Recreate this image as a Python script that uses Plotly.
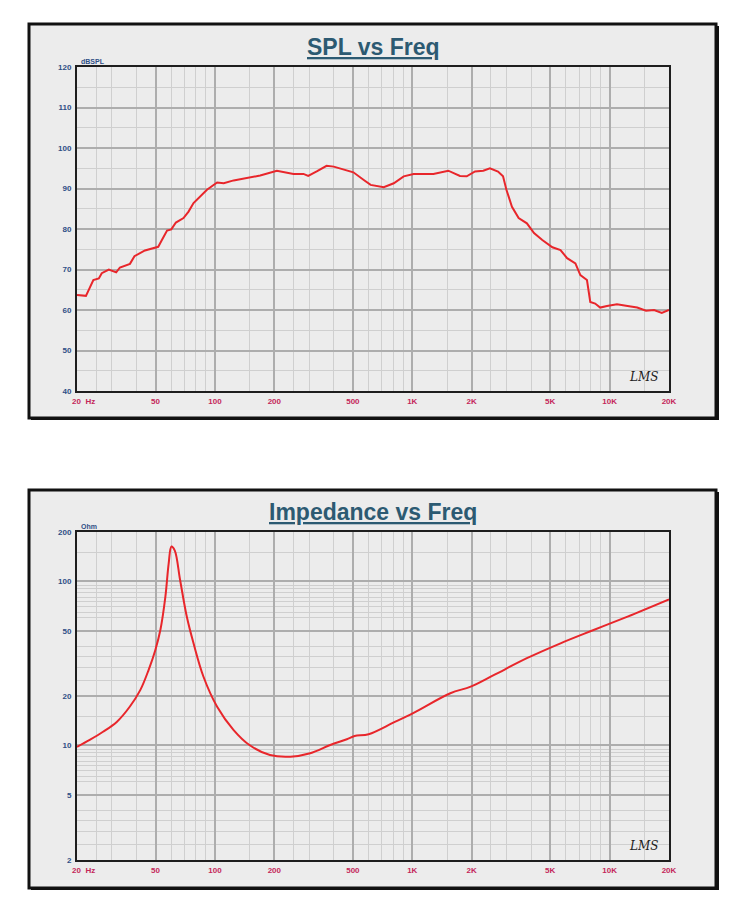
import plotly.graph_objects as go
import math

# ---------------- data ----------------
spl_freq = [20, 22.2, 24.2, 25.8, 26.7, 29.0, 31.6, 33.0, 37.1, 39.1, 44.2, 48.9, 51.6, 53.6,
            57.2, 60.1, 63.4, 69.3, 73.5, 77.9, 84.2, 91.1, 102.6, 110.8, 124.4, 145.5, 169.6,
            206, 231.5, 250, 281, 297, 328, 368, 400, 448, 503, 568, 615, 717, 806, 905, 1016,
            1280, 1522, 1745, 1888, 2080, 2290, 2475, 2720, 2884, 3000, 3200, 3460, 3810, 4140,
            4560, 5130, 5640, 6090, 6710, 7110, 7680, 7980, 8450, 8960, 9700, 10900, 12330,
            13800, 15300, 16800, 18380, 20000]
spl_db = [63.7, 63.5, 67.4, 67.8, 69.1, 70.0, 69.3, 70.5, 71.4, 73.3, 74.7, 75.2, 75.6, 77.1,
          79.6, 79.9, 81.6, 82.7, 84.3, 86.4, 88.0, 89.7, 91.5, 91.3, 92.0, 92.7, 93.2,
          94.4, 94.0, 93.6, 93.6, 93.1, 94.2, 95.6, 95.4, 94.8, 94.0, 92.1, 90.9, 90.3, 91.3, 93.0, 93.6,
          93.6, 94.4, 93.1, 93.0, 94.2, 94.4, 95.0, 94.2, 93.0, 89.7, 85.5, 82.7, 81.4, 79.0,
          77.3, 75.5, 74.8, 72.8, 71.5, 68.6, 67.4, 62.0, 61.6, 60.6, 61.0, 61.4, 61.0,
          60.6, 59.8, 60.0, 59.3, 60.0]

imp_freq = [20, 23.2, 27.1, 31.8, 37.0, 41.9, 46.1, 49.9, 52.9, 56.1, 58.3, 60.2, 62.6, 66.6,
            72.0, 77.9, 87.5, 102.6, 124.4, 149.6, 190, 241, 304, 384, 466, 510, 601,
            806, 1016, 1560, 1977, 2600, 3810, 5640, 8300, 12330, 20000]
imp_ohm = [9.8, 10.8, 12.1, 13.9, 17.2, 21.8, 28.8, 38.2, 50.5, 80.7, 128.9, 163, 154, 102,
           61, 41.9, 26.2, 17.2, 12.4, 10.05, 8.73, 8.53, 8.95, 10.05, 10.9, 11.4, 11.7,
           13.8, 15.8, 20.8, 22.8, 26.9, 34.0, 41.9, 50.5, 61, 77.7]

x_tick_vals = [20, 50, 100, 200, 500, 1000, 2000, 5000, 10000, 20000]
x_tick_text = ["\u00a0" * 6 + "20\u00a0\u00a0Hz", "50", "100", "200", "500", "1K", "2K", "5K", "10K", "20K"]
x_major_grid = [20, 30, 40, 50, 60, 70, 80, 90, 100, 200, 300, 400, 500, 600, 700, 800, 900,
                1000, 2000, 3000, 4000, 5000, 6000, 7000, 8000, 9000, 10000, 20000]
x_minor_grid = [25, 150, 250, 1500, 2500, 15000]

spl_tick_vals = [40, 50, 60, 70, 80, 90, 100, 110, 120]
spl_minor_grid = [45, 55, 65, 75, 85, 95, 105, 115]

imp_tick_vals = [2, 5, 10, 20, 50, 100, 200]
imp_major_grid = [2, 3, 4, 5, 6, 7, 8, 9, 10, 20, 30, 40, 50, 60, 70, 80, 90, 100, 200]
imp_minor_grid = [2.5, 3.5, 6.5, 7.5, 8.5, 9.5, 15, 25, 35, 65, 75, 85, 95, 150]

# ---------------- layout geometry ----------------
W, H = 750, 905
def px(x): return x / W
def py(y): return 1 - y / H

PLOT_X0, PLOT_X1 = 77, 669
TOP_Y0, TOP_Y1 = 67, 391
BOT_Y0, BOT_Y1 = 532, 860

LINE_COLOR = "#e8262b"
YLAB = "#2f4f86"
XLAB = "#c4275a"
TITLE = "#2c5a72"
FONT = "Liberation Sans, Arial, sans-serif"
GRID_MAJ = "#adadad"
GRID_MIN = "#cfcfcf"

fig = go.Figure()
fig.add_trace(go.Scatter(x=spl_freq, y=spl_db, mode="lines",
                         line=dict(color=LINE_COLOR, width=2), xaxis="x", yaxis="y",
                         showlegend=False, hoverinfo="skip"))
fig.add_trace(go.Scatter(x=imp_freq, y=imp_ohm, mode="lines", line_shape="spline",
                         line=dict(color=LINE_COLOR, width=2), xaxis="x2", yaxis="y2",
                         showlegend=False, hoverinfo="skip"))

def xaxis_cfg(anchor):
    return dict(type="log", range=[math.log10(20), math.log10(20000)],
                domain=[px(PLOT_X0), px(PLOT_X1)], anchor=anchor, automargin=False,
                tickmode="array", tickvals=x_tick_vals, ticktext=x_tick_text,
                tickfont=dict(family=FONT, size=8, color=XLAB, weight="bold"),
                showgrid=True, gridcolor=GRID_MAJ, gridwidth=1.6,
                minor=dict(tickmode="array", tickvals=x_minor_grid + x_major_grid,
                           showgrid=True, gridcolor=GRID_MIN, gridwidth=1.2),
                showline=True, linecolor="#1e1e1e", linewidth=2, mirror=True,
                ticks="", zeroline=False, ticklabelstandoff=1)

fig.update_layout(
    width=W, height=H, margin=dict(l=0, r=0, t=0, b=0, pad=0, autoexpand=False),
    paper_bgcolor="white", plot_bgcolor="white", showlegend=False,
    xaxis=xaxis_cfg("y"),
    yaxis=dict(range=[40, 120], domain=[py(TOP_Y1), py(TOP_Y0)], anchor="x", automargin=False,
               tickmode="array", tickvals=spl_tick_vals,
               tickfont=dict(family=FONT, size=8, color=YLAB, weight="bold"),
               showgrid=True, gridcolor=GRID_MAJ, gridwidth=1.6,
               minor=dict(tickmode="array", tickvals=spl_minor_grid, showgrid=True,
                          gridcolor=GRID_MIN, gridwidth=1.2),
               showline=True, linecolor="#1e1e1e", linewidth=2, mirror=True,
               ticks="", zeroline=False, ticklabelstandoff=2),
    xaxis2=xaxis_cfg("y2"),
    yaxis2=dict(type="log", range=[math.log10(2), math.log10(200)],
                domain=[py(BOT_Y1), py(BOT_Y0)], anchor="x2", automargin=False,
                tickmode="array", tickvals=imp_tick_vals,
                ticktext=[str(v) for v in imp_tick_vals],
                tickfont=dict(family=FONT, size=8, color=YLAB, weight="bold"),
                showgrid=True, gridcolor=GRID_MAJ, gridwidth=1.6,
                minor=dict(tickmode="array", tickvals=imp_minor_grid + imp_major_grid,
                           showgrid=True, gridcolor=GRID_MIN, gridwidth=1.2),
                showline=True, linecolor="#1e1e1e", linewidth=2, mirror=True,
                ticks="", zeroline=False, ticklabelstandoff=2),
)

# Panels (background boxes)
shapes = []
for (y0, y1) in [(24, 418), (490, 888)]:
    shapes.append(dict(type="rect", xref="paper", yref="paper", layer="below",
                       x0=px(31), x1=px(719), y0=py(y1 + 2), y1=py(y0 + 2),
                       fillcolor="#111111", line=dict(width=0)))
    shapes.append(dict(type="rect", xref="paper", yref="paper", layer="below",
                       x0=px(29), x1=px(716), y0=py(y1), y1=py(y0),
                       fillcolor="#ececec", line=dict(color="#111111", width=3)))
fig.update_layout(shapes=shapes)

annotations = [
    dict(text="<u>SPL vs Freq</u>", x=px(373), y=py(47), xref="paper", yref="paper",
         showarrow=False, font=dict(family=FONT, size=23, color=TITLE, weight="bold"),
         xanchor="center", yanchor="middle"),
    dict(text="<u>Impedance vs Freq</u>", x=px(373), y=py(512), xref="paper", yref="paper",
         showarrow=False, font=dict(family=FONT, size=23, color=TITLE, weight="bold"),
         xanchor="center", yanchor="middle"),
    dict(text="dBSPL", x=0.004, y=1.0, xref="x domain", yref="y domain", showarrow=False,
         xanchor="left", yanchor="bottom", font=dict(family=FONT, size=7, color=YLAB, weight="bold")),
    dict(text="Ohm", x=0.004, y=1.0, xref="x2 domain", yref="y2 domain", showarrow=False,
         xanchor="left", yanchor="bottom", font=dict(family=FONT, size=7, color=YLAB, weight="bold")),
    dict(text="<i>LMS</i>", x=0.985, y=0.015, xref="x domain", yref="y domain", showarrow=False,
         xanchor="right", yanchor="bottom", font=dict(family="DejaVu Serif, serif", size=12, color="#222")),
    dict(text="<i>LMS</i>", x=0.985, y=0.015, xref="x2 domain", yref="y2 domain", showarrow=False,
         xanchor="right", yanchor="bottom", font=dict(family="DejaVu Serif, serif", size=12, color="#222")),
]
fig.update_layout(annotations=annotations)

fig.write_html("out.html")
